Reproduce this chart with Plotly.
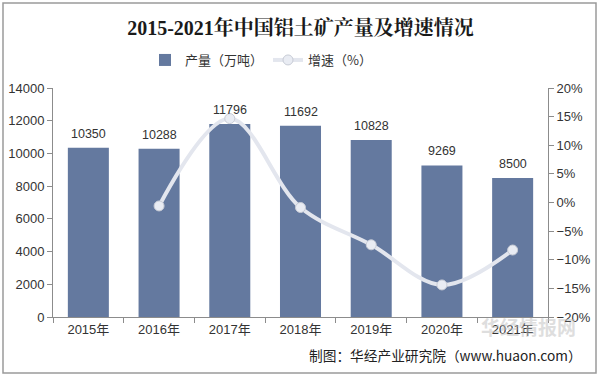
import plotly.graph_objects as go

years = ["2015年", "2016年", "2017年", "2018年", "2019年", "2020年", "2021年"]
production = [10350, 10288, 11796, 11692, 10828, 9269, 8500]
growth_years = ["2016年", "2017年", "2018年", "2019年", "2020年", "2021年"]
growth = [-0.6, 14.66, -0.88, -7.39, -14.40, -8.30]

W, H = 599, 378
L, R, T, B = 53, 51, 88, 61
pw, ph = W - L - R, H - T - B

def px(x):
    return (x - L) / pw

def py(y):
    return (H - B - y) / ph

fig = go.Figure()
fig.add_trace(go.Bar(
    x=years, y=production, name="产量（万吨）",
    marker=dict(color="#64799F", line=dict(width=0)),
    width=0.58,
))
fig.add_trace(go.Scatter(
    x=growth_years, y=growth, name="增速（%）", yaxis="y2",
    mode="lines+markers",
    line=dict(color="#E3E6EE", width=4, shape="spline", smoothing=1.0),
    marker=dict(size=10, color="#E9ECF3", line=dict(color="#C8CCD6", width=1)),
))

# value labels above bars
for yr, v in zip(years, production):
    fig.add_annotation(x=yr, y=v, xref="x", yref="y", text=str(v), showarrow=False,
                       yanchor="bottom", yshift=5,
                       font=dict(size=12.5, color="#333333", family="Liberation Sans, Arial"))

fig.update_layout(
    width=W, height=H,
    margin=dict(l=L, r=R, t=T, b=B, autoexpand=False),
    paper_bgcolor="white", plot_bgcolor="white",
    font=dict(family="Liberation Sans, Arial, Noto Sans CJK SC", size=13, color="#333333"),
    title=dict(text="<b>2015-2021年中国铝土矿产量及增速情况</b>",
               x=0.5, xref="paper", xanchor="center", y=1 - 28 / H, yanchor="middle",
               font=dict(family="Liberation Serif, Noto Serif CJK SC, Noto Sans CJK SC", size=20, color="#1a1a1a")),
    legend=dict(orientation="h", x=261 / W, xanchor="center", xref="container",
                y=1 - 60 / H, yref="container", yanchor="middle",
                font=dict(size=13, family="Noto Sans CJK SC, Liberation Sans", color="#333333"),
                itemwidth=30, tracegroupgap=0),
    bargap=0.42,
    xaxis=dict(showline=True, linecolor="#8c8c8c", linewidth=1, ticks="outside",
               tickson="boundaries", ticklen=5, tickcolor="#8c8c8c", automargin=False,
               tickfont=dict(size=13, family="Liberation Sans, Noto Sans CJK SC"),
               showgrid=False),
    yaxis=dict(range=[0, 14000], dtick=2000, tickformat="d", showline=True, linecolor="#8c8c8c",
               ticks="outside", ticklen=5, tickcolor="#8c8c8c", showgrid=False, automargin=False,
               zeroline=False, tickfont=dict(size=13)),
    yaxis2=dict(range=[-20, 20], dtick=5, ticksuffix="%", overlaying="y", side="right",
                showline=True, linecolor="#8c8c8c", ticks="outside", ticklen=5, automargin=False,
                tickcolor="#8c8c8c", showgrid=False, zeroline=False, tickfont=dict(size=13)),
)

# outer frame
fig.add_shape(type="rect", xref="paper", yref="paper",
              x0=px(3), x1=px(596), y0=py(373), y1=py(3),
              line=dict(color="#9a9a9a", width=1.5), fillcolor="rgba(0,0,0,0)", layer="below")

# watermark
fig.add_annotation(text="<b>华经情报网</b>", xref="paper", yref="paper",
                   x=px(528), y=py(326), xanchor="center", yanchor="middle", showarrow=False,
                   font=dict(size=19, color="rgba(190,190,190,0.5)", family="Noto Sans CJK SC"))

# source
fig.add_annotation(text="制图：华经产业研究院（www.huaon.com）", xref="paper", yref="paper",
                   x=px(584), y=py(355), xanchor="right", yanchor="middle", showarrow=False,
                   font=dict(size=13.7, color="#222222", family="Noto Sans CJK SC, Liberation Sans"))

fig.write_html("out.html", config={"displayModeBar": False},
               post_script="document.body.style.margin='0';document.body.style.padding='0';")
